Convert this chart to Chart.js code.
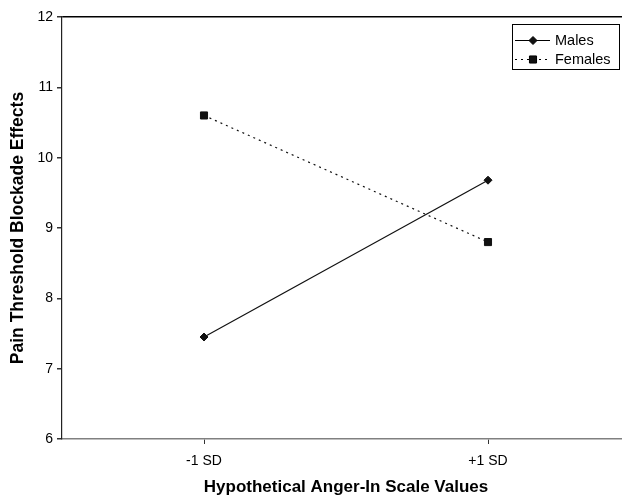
<!DOCTYPE html>
<html>
<head>
<meta charset="utf-8">
<script src="https://cdn.jsdelivr.net/npm/chart.js@4.4.1/dist/chart.umd.min.js"></script>
<style>
  html, body { margin: 0; padding: 0; background: #fff; overflow: hidden; }
  #wrap { width: 622px; height: 498px; overflow: hidden; }
</style>
</head>
<body>
<!-- canvas is a bit wider than the window: the plot runs off the right edge like the original -->
<div id="wrap"><canvas id="chart" width="630" height="498"></canvas></div>
<script>
// data
const categories = ["-1 SD", "+1 SD"];
const males = [7.45, 9.68];
const females = [10.6, 8.8];
const yTicks = [6, 7, 8, 9, 10, 11, 12];

const FONT = "'Liberation Sans', Arial, sans-serif";

// small legend box drawn at the top right, like the original
const boxLegend = {
    id: "boxLegend",
    afterDraw(chart) {
        const ctx = chart.ctx;
        const x0 = 512, y0 = 24, w = 107, h = 45;
        ctx.save();
        ctx.fillStyle = "#fff";
        ctx.fillRect(x0, y0, w, h);
        ctx.strokeStyle = "#000";
        ctx.lineWidth = 1;
        ctx.strokeRect(x0 + 0.5, y0 + 0.5, w, h);

        const rows = [
            { label: "Males", ds: chart.data.datasets[0], y: y0 + 16 },
            { label: "Females", ds: chart.data.datasets[1], y: y0 + 35 }
        ];
        rows.forEach(function (r) {
            ctx.beginPath();
            ctx.strokeStyle = "#000";
            ctx.lineWidth = 1;
            ctx.setLineDash(r.ds.borderDash || []);
            ctx.moveTo(x0 + 3, r.y + 0.5);
            ctx.lineTo(x0 + 38, r.y + 0.5);
            ctx.stroke();
            ctx.setLineDash([]);
            ctx.fillStyle = "#111";
            Chart.helpers.drawPoint(ctx, {
                pointStyle: r.ds.pointStyle,
                radius: r.ds.pointRadius,
                borderWidth: 1
            }, x0 + 21, r.y + 0.5);
            ctx.fillStyle = "#000";
            ctx.font = "14.5px " + FONT;
            ctx.textBaseline = "middle";
            ctx.fillText(r.label, x0 + 43, r.y + 1);
        });
        ctx.restore();
    }
};

new Chart(document.getElementById("chart"), {
    type: "line",
    data: {
        labels: categories,
        datasets: [
            {
                label: "Males",
                data: males,
                borderColor: "#111",
                backgroundColor: "#111",
                borderWidth: 1.2,
                pointStyle: "rectRot",
                pointRadius: 4,
                pointBorderWidth: 1,
                tension: 0
            },
            {
                label: "Females",
                data: females,
                borderColor: "#111",
                backgroundColor: "#111",
                borderWidth: 1.2,
                borderDash: [2, 4],
                pointStyle: "rect",
                pointRadius: 5,
                pointBorderWidth: 1,
                tension: 0
            }
        ]
    },
    options: {
        responsive: false,
        animation: false,
        devicePixelRatio: 1,
        layout: { autoPadding: false, padding: { top: 17, right: 0, left: 0, bottom: 0 } },
        plugins: {
            legend: { display: false },
            tooltip: { enabled: false }
        },
        scales: {
            x: {
                offset: true,
                afterFit: function (s) {
                    s.height = 59;
                    s.paddingLeft = 0;
                    s.paddingRight = 0;
                },
                border: { color: "#808080", width: 1.5 },
                grid: {
                    drawOnChartArea: false,
                    tickLength: 5,
                    tickColor: "#333",
                    offset: false
                },
                ticks: {
                    color: "#000",
                    padding: 9,
                    font: { family: FONT, size: 14 }
                },
                title: {
                    display: true,
                    text: "Hypothetical Anger-In Scale Values",
                    color: "#000",
                    padding: { top: 0, bottom: 0 },
                    font: { family: FONT, size: 17, weight: "bold" }
                }
            },
            y: {
                min: yTicks[0],
                max: yTicks[yTicks.length - 1],
                afterFit: function (s) { s.width = 62; },
                afterBuildTicks: function (s) {
                    s.ticks = yTicks.map(function (v) { return { value: v }; });
                },
                border: { color: "#222", width: 1.2 },
                grid: {
                    color: function (c) { return c.tick && c.tick.value === 12 ? "#000" : "rgba(0,0,0,0)"; },
                    lineWidth: 1.5,
                    tickLength: 5,
                    tickColor: "#333"
                },
                ticks: {
                    color: "#000",
                    padding: 4,
                    font: { family: FONT, size: 14 }
                },
                title: {
                    display: true,
                    text: "Pain Threshold Blockade Effects",
                    color: "#000",
                    padding: { top: 8, bottom: 0 },
                    font: { family: FONT, size: 17.5, weight: "bold" }
                }
            }
        }
    },
    plugins: [boxLegend]
});
</script>
</body>
</html>
